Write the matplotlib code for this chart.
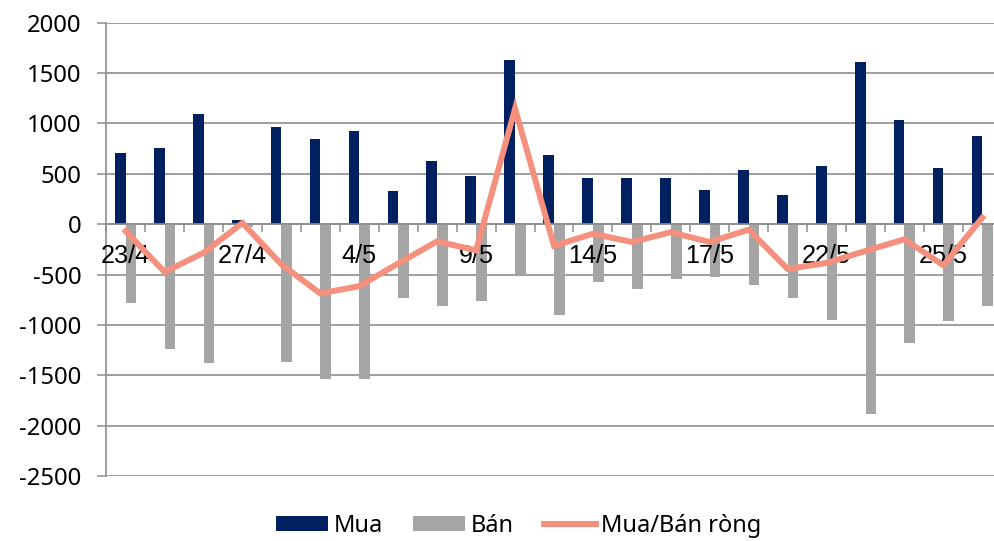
import numpy as np
import matplotlib
matplotlib.use("Agg")
import matplotlib.pyplot as plt
from matplotlib.ticker import FixedLocator

# --- data
dates = ["23/4", "24/4", "26/4", "27/4", "2/5", "3/5", "4/5", "7/5", "8/5", "9/5",
         "10/5", "11/5", "14/5", "15/5", "16/5", "17/5", "18/5", "21/5", "22/5",
         "23/5", "24/5", "25/5", "28/5"]
mua = [702, 759, 1090, 42, 968, 849, 924, 331, 632, 480, 1625, 689, 463, 463,
       460, 337, 533, 294, 576, 1612, 1031, 560, 872]
ban = [-781, -1237, -1376, -30, -1370, -1536, -1542, -731, -814, -760, -498,
       -906, -571, -646, -547, -520, -603, -729, -954, -1880, -1183, -961, -812]
rong = [-70, -475, -284, 12, -400, -688, -615, -390, -170, -260, 1147, -215,
        -95, -177, -80, -177, -55, -445, -385, -266, -150, -408, 64]
yticks = [2000, 1500, 1000, 500, 0, -500, -1000, -1500, -2000, -2500]

DARK = "#002060"
GREY = "#A5A5A5"
SALMON = "#F4907D"
GRID = "#8E8E8E"

fig = plt.figure(figsize=(9.94, 5.41), dpi=100)
ax = fig.add_axes([106.2 / 994, 65 / 541, 1 - 106.2 / 994, 453.3 / 541])

x = np.arange(len(dates))
w = 0.275
h_mua = ax.bar(x - w / 2, mua, width=w, color=DARK, zorder=2, label="Mua")
h_ban = ax.bar(x + w / 2, ban, width=w, color=GREY, zorder=2, label="Bán")
h_rong, = ax.plot(x, rong, color=SALMON, lw=4.3, solid_joinstyle="miter",
                  zorder=4, label="Mua/Bán ròng")

# --- axes (grid drawn by hand so it stays behind the bars,
#     while ticks and labels sit on top of them)
ax.set_xlim(-0.5, 22.3)
ax.set_ylim(-2500, 2000)
for v in yticks:
    ax.axhline(v, color=GRID, lw=1.2, zorder=1)
ax.set_axisbelow(False)

ax.set_yticks(yticks)
ax.set_yticklabels([str(v) for v in yticks], family="Noto Sans", fontsize=17.2)
ax.tick_params(axis="y", length=6.5, width=1.1, color=GRID, pad=11.5)

ax.spines["bottom"].set_position(("data", 0))
for s in ("top", "right"):
    ax.spines[s].set_visible(False)
for s in ("left", "bottom"):
    ax.spines[s].set_color(GRID)
    ax.spines[s].set_linewidth(1.2)

ax.set_xticks(x[::3])
ax.set_xticklabels(dates[::3], family="Liberation Sans", fontsize=18.2)
ax.xaxis.set_minor_locator(FixedLocator(np.arange(-0.5, 23, 1)))
ax.tick_params(axis="x", which="major", length=0, pad=14.5)
ax.tick_params(axis="x", which="minor", length=6, width=1.1, color=GRID)

# --- legend under the plot
fig.legend([h_mua, h_ban, h_rong], ["Mua", "Bán", "Mua/Bán ròng"],
           loc="lower center", bbox_to_anchor=(519 / 994, -0.016), ncol=3,
           frameon=False, prop={"family": "Noto Sans", "size": 17},
           handlelength=2.2, handleheight=0.62, handletextpad=0.22,
           columnspacing=1.3, borderpad=0)

fig.savefig("out.png", dpi=100)
